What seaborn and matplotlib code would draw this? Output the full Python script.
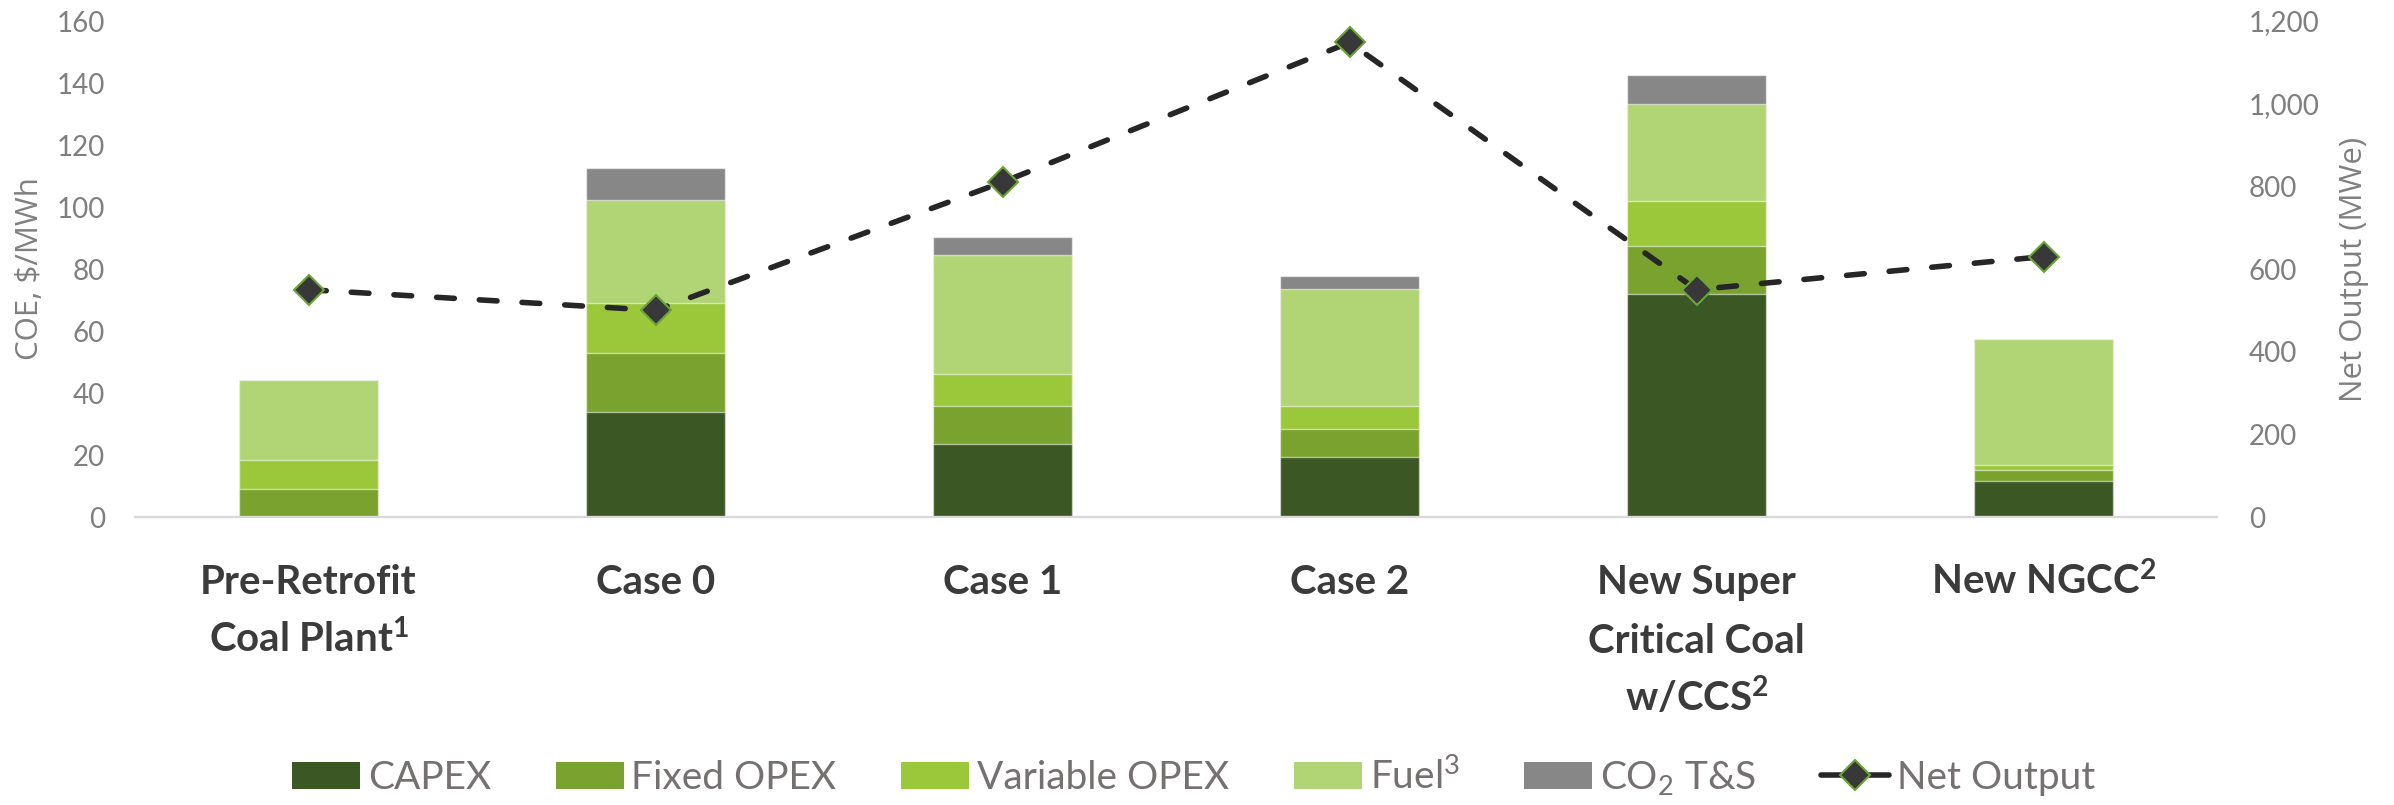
import numpy as np
import pandas as pd
import matplotlib
matplotlib.use("Agg")
import matplotlib.pyplot as plt
from matplotlib.patches import Patch
from matplotlib.lines import Line2D
from matplotlib.ticker import FuncFormatter
from matplotlib.transforms import offset_copy
import seaborn as sns

# ---- data -------------------------------------------------------------
cases = ["Pre-Retrofit Coal Plant", "Case 0", "Case 1", "Case 2",
         "New Super Critical Coal w/CCS", "New NGCC"]
case_label_lines = [
    ["Pre-Retrofit", "Coal Plant$^{1}$"],
    ["Case 0"],
    ["Case 1"],
    ["Case 2"],
    ["New Super", "Critical Coal", "w/CCS$^{2}$"],
    ["New NGCC$^{2}$"],
]

capex = [0.0, 33.8, 23.5, 19.5, 72.0, 11.7]
fixed_opex = [9.0, 19.0, 12.3, 9.0, 15.5, 3.5]
variable_opex = [9.4, 16.3, 10.2, 7.4, 14.4, 1.6]
fuel = [25.8, 33.2, 38.4, 37.6, 31.2, 40.6]
co2_ts = [0.0, 10.2, 6.0, 4.1, 9.5, 0.0]
net_output = [550, 500, 810, 1148, 550, 630]

component_keys = ["capex", "fixed", "variable", "fuel", "co2"]
component_labels = ["CAPEX", "Fixed OPEX", "Variable OPEX", "Fuel$^{3}$", "CO$_{2}$ T&S"]
component_colors = ["#3a5724", "#7aa22e", "#9bc83b", "#b1d474", "#878787"]
net_label = "Net Output"

left_ticks = list(range(0, 161, 20))
right_ticks = list(range(0, 1201, 200))

# ---- style ------------------------------------------------------------
sns.set_theme(style="white")
plt.rcParams["font.family"] = ["Lato", "DejaVu Sans"]
plt.rcParams["mathtext.default"] = "regular"

TICK_GREY = "#7f7f7f"
LABEL_GREY = "#808080"
CAT_DARK = "#3b3b3b"

fig = plt.figure(figsize=(23.94, 8.05), dpi=100)
W, H = 2394, 805
ax_left, ax_right, ax_top, ax_bottom = 135, 2217, 21, 517
ax = fig.add_axes([ax_left / W, 1 - ax_bottom / H,
                   (ax_right - ax_left) / W, (ax_bottom - ax_top) / H])

df = pd.DataFrame({"case": cases, "capex": capex, "fixed": fixed_opex,
                   "variable": variable_opex, "fuel": fuel, "co2": co2_ts})
cum = df[component_keys].cumsum(axis=1)
cum["case"] = df["case"]

# stacked bars: draw cumulative totals from the top layer down
for key, color in reversed(list(zip(component_keys, component_colors))):
    sns.barplot(data=cum, x="case", y=key, order=cases, color=color,
                saturation=1, width=0.4, errorbar=None, ax=ax,
                edgecolor=(1, 1, 1, 0.55), linewidth=1.0)

n = len(cases)
ax.set_xlim(-0.5, n - 0.5)
ax.set_ylim(0, 160)
ax.set_yticks(left_ticks)
ax.set_xticks(range(n))
ax.tick_params(axis="x", length=0, labelbottom=False)
ax.tick_params(axis="y", length=0, pad=21.5, labelsize=20, labelcolor=TICK_GREY)
ax.set_xlabel("")
ax.set_ylabel("COE, $/MWh", fontfamily="Open Sans", fontsize=22.5, color=LABEL_GREY)
ax.yaxis.set_label_coords((30 - ax_left) / (ax_right - ax_left), 0.5)
ax.yaxis.label.set_va("center")

for s in ["top", "right", "left"]:
    ax.spines[s].set_visible(False)
ax.spines["bottom"].set_color("#d9d9d9")
ax.spines["bottom"].set_linewidth(1.7)
ax.grid(False)

# net output on the secondary axis
ax2 = ax.twinx()
sns.lineplot(x=np.arange(n), y=net_output, ax=ax2, color="#262626",
             linewidth=4, marker="D", markersize=15.5,
             markerfacecolor="#383838", markeredgecolor="#6aa53a",
             markeredgewidth=1.5, errorbar=None, legend=False, sort=False)
line = ax2.lines[0]
line.set_dashes([3.2, 4.5])
line.set_dash_capstyle("round")
ax2.set_ylim(0, 1200)
ax2.set_yticks(right_ticks)
ax2.yaxis.set_major_formatter(FuncFormatter(lambda v, p: f"{v:,.0f}"))
ax2.tick_params(axis="y", length=0, pad=23, labelsize=20, labelcolor=TICK_GREY)
ax2.set_ylabel("Net Output (MWe)", fontfamily="Open Sans", fontsize=22.5,
               color=LABEL_GREY)
ax2.yaxis.set_label_coords((2354 - ax_left) / (ax_right - ax_left), 0.5)
ax2.yaxis.label.set_va("center")
ax2.set_xlabel("")
for s in ax2.spines.values():
    s.set_visible(False)
ax2.grid(False)
ax.set_xlim(-0.5, n - 0.5)

# category labels, one text per line so baselines stay aligned
first_baseline, line_step = 77, 58.5
xtrans = ax.get_xaxis_transform()
for i, lines in enumerate(case_label_lines):
    for k, txt in enumerate(lines):
        tr = offset_copy(xtrans, fig=fig, x=0, y=-(first_baseline + k * line_step),
                         units="dots")
        ax.text(i, 0, txt, transform=tr, ha="center", va="baseline",
                fontsize=29, fontweight="bold", color=CAT_DARK)

# legend
handles = [Patch(facecolor=c, edgecolor="none") for c in component_colors]
handles.append(Line2D([], [], color="#262626", linewidth=4, marker="D",
                      markersize=15.5, markerfacecolor="#383838",
                      markeredgecolor="#6aa53a", markeredgewidth=1.5))
labels = component_labels + [net_label]
fig.legend(handles, labels, loc="center", bbox_to_anchor=(0.4985, (H - 777) / H),
           ncol=6, frameon=False, fontsize=28, handlelength=1.75,
           handleheight=0.69, handletextpad=0.2, columnspacing=1.66,
           labelcolor="#757171")

fig.savefig("out.png", dpi=100)
